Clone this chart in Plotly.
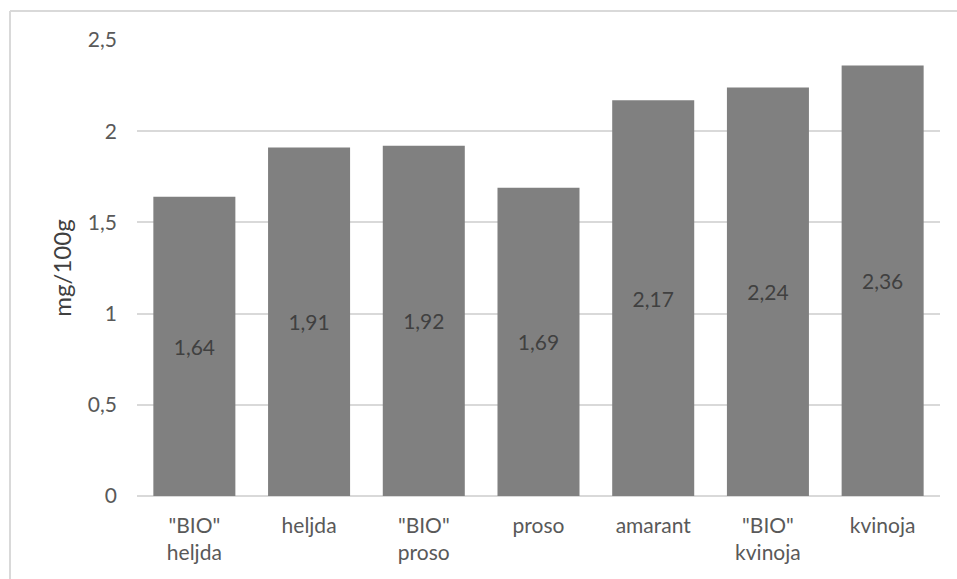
import plotly.graph_objects as go

categories = ['"BIO"<br>heljda', 'heljda', '"BIO"<br>proso', 'proso', 'amarant', '"BIO"<br>kvinoja', 'kvinoja']
values = [1.64, 1.91, 1.92, 1.69, 2.17, 2.24, 2.36]
y_title = "mg/100g"

W, H = 957, 579
L, R, T, B = 137, 17, 40, 83
pw, ph = W - L - R, H - T - B

def px(x):
    return (x - L) / pw

def py(y):
    return (H - B - y) / ph

fig = go.Figure(go.Bar(
    x=categories, y=values,
    marker=dict(color="#808080", line=dict(width=0)),
    texttemplate="%{y:.2f}", textposition="inside", insidetextanchor="middle",
    textfont=dict(family="Lato", size=21, color="#404040"),
    hoverinfo="skip",
))

border = "#d9d9d9"
fig.add_shape(type="line", xref="paper", yref="paper", x0=px(10), x1=px(960), y0=py(11), y1=py(11),
              line=dict(color=border, width=2))
fig.add_shape(type="line", xref="paper", yref="paper", x0=px(10), x1=px(10), y0=py(11), y1=py(585),
              line=dict(color=border, width=2))

fig.update_layout(
    width=W, height=H, margin=dict(l=L, r=R, t=T, b=B, pad=0),
    paper_bgcolor="white", plot_bgcolor="white",
    separators=", ",
    bargap=0.285, showlegend=False,
    font=dict(family="Lato", size=21, color="#595959"),
    xaxis=dict(showgrid=False, showline=False, ticks="", tickfont=dict(size=21, color="#595959"),
               ticklabelstandoff=15),
    yaxis=dict(range=[0, 2.5], dtick=0.5, showgrid=True, gridcolor="#d9d9d9", gridwidth=1.5,
               zeroline=True, zerolinecolor="#d9d9d9", zerolinewidth=1.5, showline=False,
               ticks="", ticklabelstandoff=19, tickfont=dict(size=21, color="#595959"),
               title=dict(text=y_title, standoff=9, font=dict(size=24, color="#404040"))),
)

fig.write_html("out.html", config={"displayModeBar": False},
               post_script="document.body.style.margin='0';document.body.style.overflow='hidden';")
